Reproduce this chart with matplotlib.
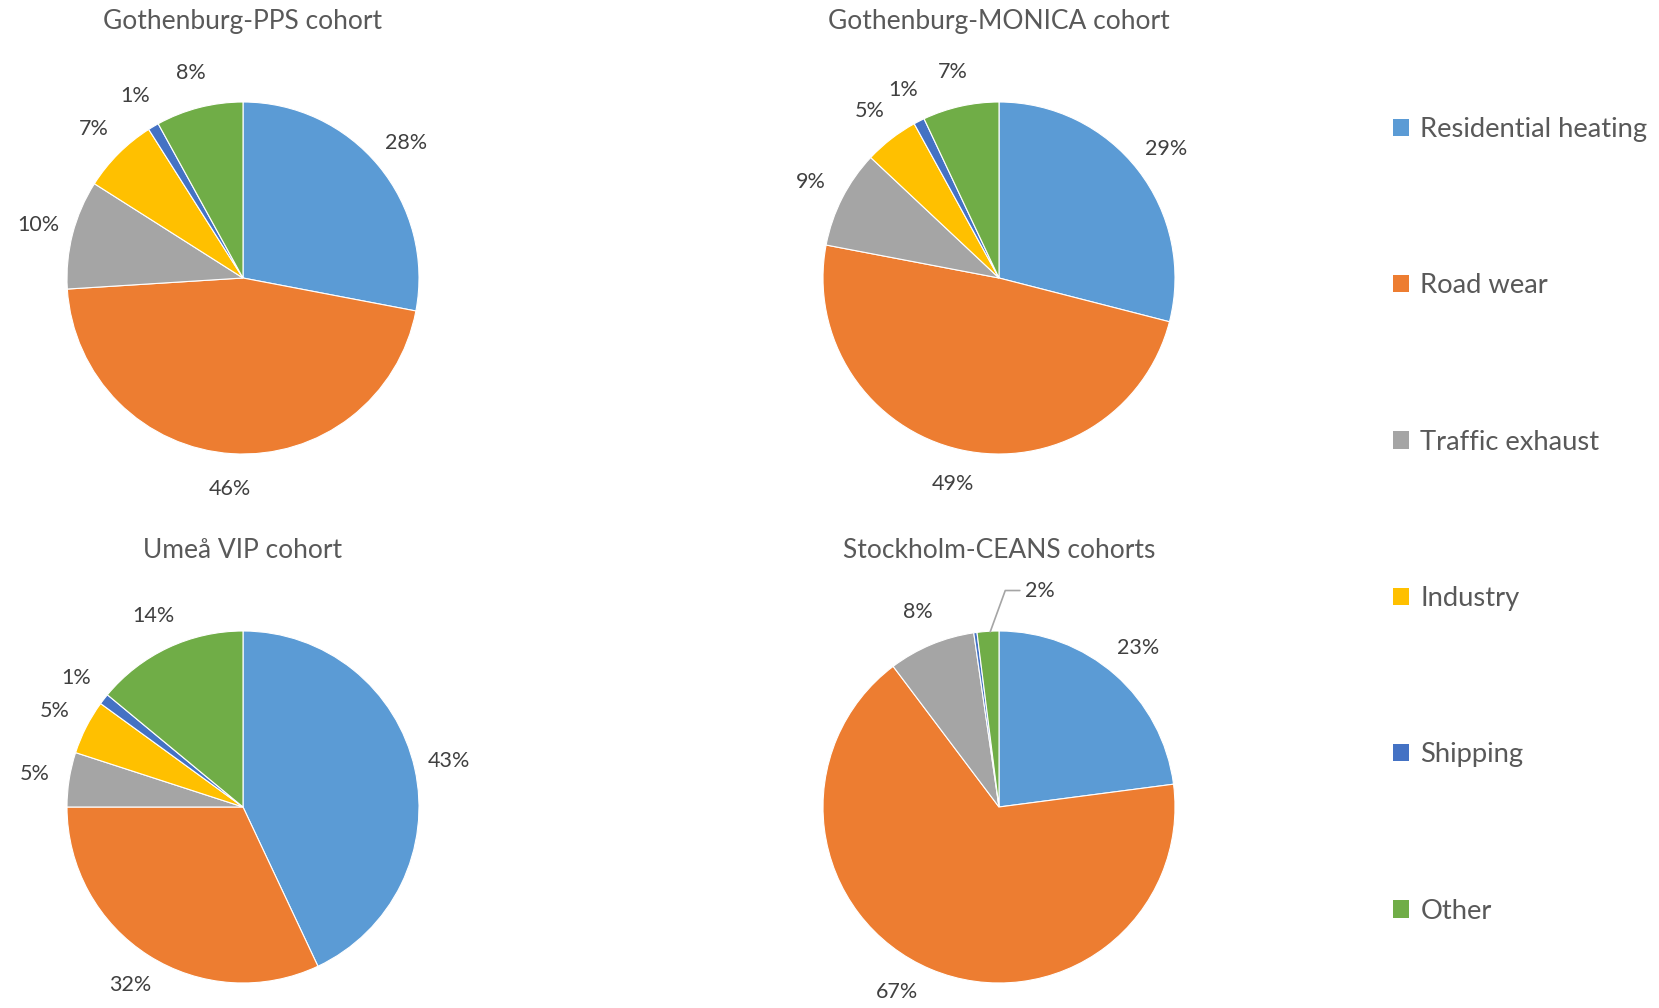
import matplotlib as mpl
import matplotlib.pyplot as plt
import numpy as np
from matplotlib.patches import Patch

mpl.rcParams["font.family"] = ["Lato", "DejaVu Sans"]

categories = ["Residential heating", "Road wear", "Traffic exhaust", "Industry", "Shipping", "Other"]
colors = ["#5B9BD5", "#ED7D31", "#A5A5A5", "#FFC000", "#4472C4", "#70AD47"]

titles = ["Gothenburg-PPS cohort", "Gothenburg-MONICA cohort", "Umeå VIP cohort", "Stockholm-CEANS cohorts"]

ppsVals = [28, 46, 10, 7, 1, 8]
ppsLabels = ["28%", "46%", "10%", "7%", "1%", "8%"]
monicaVals = [29, 49, 9, 5, 1, 7]
monicaLabels = ["29%", "49%", "9%", "5%", "1%", "7%"]
vipVals = [43, 32, 5, 5, 1, 14]
vipLabels = ["43%", "32%", "5%", "5%", "1%", "14%"]
ceansVals = [23, 67, 8, 0.3, 2]
ceansLabels = ["23%", "67%", "8%", "", "2%"]
ceansColors = ["#5B9BD5", "#ED7D31", "#A5A5A5", "#4472C4", "#70AD47"]

W, H = 1659, 1008
R = 176
LIM = 1.45
LABEL_SIZE = 15.5


def pieAxes(cx, cy):
	size = 2 * LIM * R
	return fig.add_axes([(cx - size / 2) / W, 1 - (cy + size / 2) / H, size / W, size / H])


def drawPie(ax, vals, labels, cols, skip=(), nudge=None):
	nudge = nudge or {}
	wedges, _ = ax.pie(vals, colors=cols, startangle=90, counterclock=False, radius=1.0,
		wedgeprops={"edgecolor": "white", "linewidth": 0.8})
	for i, (w, lab) in enumerate(zip(wedges, labels)):
		if not lab or i in skip:
			continue
		# nudge = extra rotation (deg) to mimic Excel's best-fit placement
		ang = np.deg2rad((w.theta1 + w.theta2) / 2 + nudge.get(i, 0))
		ax.text(1.2 * np.cos(ang), 1.2 * np.sin(ang), lab, ha="center", va="center",
			fontsize=LABEL_SIZE, color="#404040")
	ax.set_xlim(-LIM, LIM)
	ax.set_ylim(-LIM, LIM)
	ax.set_aspect("equal")
	ax.axis("off")
	return wedges


fig = plt.figure(figsize=(W / 100, H / 100), dpi=100)

centers = [(243, 278), (999, 278), (243, 807), (999, 807)]
data = [(ppsVals, ppsLabels, colors, (), None), (monicaVals, monicaLabels, colors, (), None),
	(vipVals, vipLabels, colors, (), None), (ceansVals, ceansLabels, ceansColors, (4,), {1: -6})]

for (cx, cy), (vals, labs, cols, skip, nudge), title in zip(centers, data, titles):
	ax = pieAxes(cx, cy)
	drawPie(ax, vals, labs, cols, skip, nudge)
	fig.text(cx / W, 1 - (cy - 256) / H, title, ha="center", va="center", fontsize=19, color="#595959")

# leader line for the small "Other" slice in the Stockholm pie
ax.annotate(ceansLabels[4], xy=(-0.05, 0.995), xytext=(0.15, 1.23), ha="left", va="center",
	fontsize=LABEL_SIZE, color="#404040",
	arrowprops={"arrowstyle": "-", "color": "#A5A5A5", "lw": 1.2,
		"connectionstyle": "angle,angleA=0,angleB=70,rad=0", "shrinkA": 2, "shrinkB": 0})

handles = [Patch(facecolor=c, edgecolor="none") for c in colors]
fig.legend(handles, categories, loc="upper left", bbox_to_anchor=(1393 / W, 1 - 117 / H),
	frameon=False, fontsize=19.7, labelcolor="#595959", handlelength=0.6, handleheight=0.6,
	handletextpad=0.4, labelspacing=4.8, borderaxespad=0, borderpad=0)

plt.savefig("out.png", dpi=100)
